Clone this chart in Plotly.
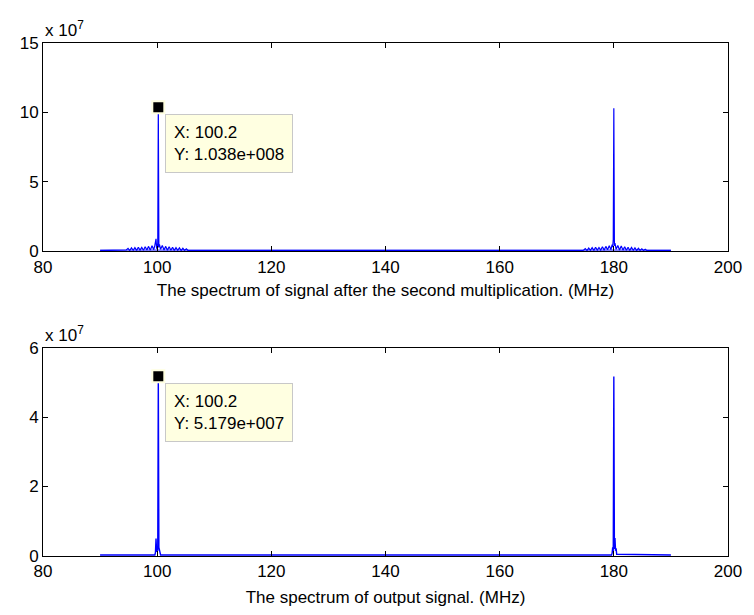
import plotly.graph_objects as go

# ---------------- data (amplitudes in units of 1e7) ----------------
freq_top = [
    90.0, 94.3,
    94.6, 94.9, 95.2, 95.5, 95.8, 96.1, 96.4, 96.7, 97.0, 97.3,
    97.6, 97.9, 98.2, 98.5, 98.8, 99.1, 99.4, 99.6, 99.8, 99.9,
    100.0, 100.1, 100.2, 100.3, 100.4, 100.6, 100.9, 101.2, 101.5, 101.8,
    102.1, 102.4, 102.7, 103.0, 103.3, 103.6, 103.9, 104.2, 104.5, 104.8,
    105.1, 105.4,
    105.7, 174.4,
    174.7, 175.0, 175.3, 175.6, 175.9, 176.2, 176.5, 176.8, 177.1, 177.4,
    177.7, 178.0, 178.3, 178.6, 178.9, 179.2, 179.5, 179.7, 179.8, 179.9,
    180.0, 180.1, 180.2, 180.4, 180.7, 181.0, 181.3, 181.6, 181.9, 182.2,
    182.5, 182.8, 183.1, 183.4, 183.7, 184.0, 184.3, 184.6, 184.9, 185.2,
    185.5,
    185.8, 190.0,
]
amp_top_e7 = [
    0.05, 0.05,
    0.10, 0.22, 0.06, 0.25, 0.08, 0.27, 0.07, 0.30, 0.09, 0.28,
    0.08, 0.33, 0.10, 0.36, 0.09, 0.40, 0.12, 0.45, 0.90, 0.20,
    0.55, 0.25, 10.38, 0.30, 0.50, 0.15, 0.42, 0.10, 0.36, 0.09,
    0.33, 0.08, 0.30, 0.07, 0.27, 0.08, 0.25, 0.06, 0.22, 0.07,
    0.18, 0.06,
    0.05, 0.05,
    0.08, 0.20, 0.06, 0.24, 0.08, 0.27, 0.07, 0.30, 0.09, 0.28,
    0.10, 0.33, 0.09, 0.36, 0.11, 0.40, 0.12, 0.48, 0.30, 0.85,
    10.30, 0.40, 0.60, 0.15, 0.42, 0.10, 0.38, 0.09, 0.34, 0.08,
    0.30, 0.07, 0.28, 0.08, 0.25, 0.06, 0.22, 0.07, 0.18, 0.06,
    0.15,
    0.05, 0.05,
]
floor_freq_top = [90.0, 190.0]
floor_amp_top_e7 = [0.05, 0.05]

freq_bot = [
    90.0,
    99.6, 99.7, 99.8, 99.9, 100.0, 100.1, 100.2, 100.3, 100.4, 100.5, 100.6,
    179.6, 179.7, 179.8, 179.9, 180.0, 180.1, 180.2, 180.3, 180.4, 180.5,
    190.0,
]
amp_bot_e7 = [
    0.03,
    0.03, 0.10, 0.50, 0.12, 0.20, 0.15, 5.179, 0.25, 0.18, 0.05, 0.03,
    0.03, 0.08, 0.25, 0.10, 5.17, 0.20, 0.52, 0.15, 0.22, 0.05,
    0.03,
]

tip_top_x, tip_top_y = 100.2, 1.038e8
tip_bot_x, tip_bot_y = 100.2, 5.179e7
scale = 1e7

x_ticks = [80, 100, 120, 140, 160, 180, 200]
y_ticks_top = [0, 5, 10, 15]
y_ticks_bot = [0, 2, 4, 6]
xlabel_top = "The spectrum of signal after the second multiplication. (MHz)"
xlabel_bot = "The spectrum of output signal. (MHz)"


def matlab_e(v):
    m, e = f"{v:.3e}".split("e")
    return f"{m}e{e[0]}{int(e[1:]):03d}"


FONT = "Liberation Sans, Arial, Helvetica, sans-serif"
FS = 17
BLUE = "#0000FF"

fig = go.Figure()
fig.add_trace(go.Scatter(x=floor_freq_top, y=floor_amp_top_e7, mode="lines",
                         line=dict(color="#7D7DFF", width=3),
                         xaxis="x", yaxis="y", hoverinfo="skip"))
fig.add_trace(go.Scatter(x=freq_top, y=amp_top_e7, mode="lines",
                         line=dict(color=BLUE, width=1.2),
                         xaxis="x", yaxis="y"))
fig.add_trace(go.Scatter(x=freq_bot, y=amp_bot_e7, mode="lines",
                         line=dict(color=BLUE, width=1.4),
                         xaxis="x2", yaxis="y2"))
fig.add_trace(go.Scatter(x=[tip_top_x], y=[tip_top_y / scale], mode="markers",
                         marker=dict(symbol="square", size=12, color="black",
                                     line=dict(color="#FFFFE0", width=2)),
                         xaxis="x", yaxis="y"))
fig.add_trace(go.Scatter(x=[tip_bot_x], y=[tip_bot_y / scale], mode="markers",
                         marker=dict(symbol="square", size=12, color="black",
                                     line=dict(color="#FFFFE0", width=2)),
                         xaxis="x2", yaxis="y2"))

axis_common = dict(showline=True, linecolor="black", linewidth=1, mirror="ticks",
                   ticks="inside", ticklen=5, tickcolor="black", showgrid=False,
                   zeroline=False, tickfont=dict(size=FS, color="black", family=FONT))

# the page body has an 8px default margin, so the figure is sized to fit inside it
fig.update_layout(
    width=746, height=607,
    margin=dict(l=30, r=20, t=35, b=55),
    plot_bgcolor="white", paper_bgcolor="white",
    showlegend=False,
    font=dict(family=FONT, size=FS, color="black"),
    xaxis=dict(domain=[0, 1], anchor="y", range=[80, 200], tickvals=x_ticks,
               title=dict(text=xlabel_top, standoff=8, font=dict(size=FS, family=FONT)),
               **axis_common),
    yaxis=dict(domain=[0.5938, 1], anchor="x", range=[0, 15], tickvals=y_ticks_top,
               **axis_common),
    xaxis2=dict(domain=[0, 1], anchor="y2", range=[80, 200], tickvals=x_ticks,
                title=dict(text=xlabel_bot, standoff=10, font=dict(size=FS, family=FONT)),
                **axis_common),
    yaxis2=dict(domain=[0, 0.4062], anchor="x2", range=[0, 6], tickvals=y_ticks_bot,
                **axis_common),
)

for ypos in (1.0, 0.4062):
    fig.add_annotation(x=0.0, y=ypos, xref="paper", yref="paper", xanchor="left",
                       yanchor="bottom", showarrow=False, yshift=1,
                       text="x 10<sup>7</sup>", font=dict(size=FS, family=FONT))

for xr, yr, tx, ty in (("x", "y", tip_top_x, tip_top_y), ("x2", "y2", tip_bot_x, tip_bot_y)):
    fig.add_annotation(x=tx, y=ty / scale, xref=xr, yref=yr, xanchor="left", yanchor="top",
                       xshift=7, yshift=-7, showarrow=False, align="left",
                       text=f"X: {tx:g}<br>Y: {matlab_e(ty)}",
                       bgcolor="#FFFFE1", bordercolor="#C8C8C8", borderwidth=1,
                       borderpad=8, font=dict(size=FS, family=FONT))

fig.write_html("out.html")
